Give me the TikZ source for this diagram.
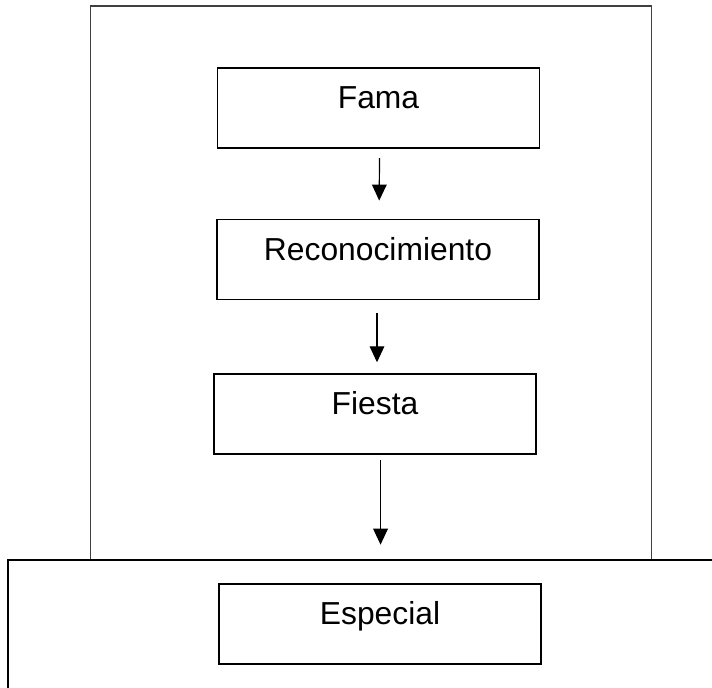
\documentclass[tikz,border=0pt]{standalone}
\usepackage{fontspec}
\setmainfont{Liberation Sans}
\usetikzlibrary{arrows.meta}
\begin{document}
\begin{tikzpicture}[x=0.75pt,y=-0.75pt,
  stepbox/.style={draw=black, line width=1.1pt, minimum width=241.5pt, minimum height=60pt,
    inner xsep=0pt, inner ysep=0pt, text height=30.5pt, text depth=29.5pt,
    font=\fontsize{23.85pt}{28pt}\selectfont},
  frame/.style={draw=black!75, line width=1.3pt},
  lowframe/.style={draw=black, line width=1.6pt},
  arr/.style={-{Triangle[width=11pt,length=12pt]}, line width=0.9pt}]
\useasboundingbox (0,0) rectangle (712,687);
\clip (0,0) rectangle (712,687);
\draw[frame] (90.4,5.8) rectangle (651.6,559.6);
\draw[lowframe] (760,559.6) -- (8.2,559.6) -- (8.2,720);
\node[stepbox] (fama) at (378.5,108) {Fama};
\node[stepbox] (recon) at (378,259.7) {Reconocimiento};
\node[stepbox] (fiesta) at (375,414) {Fiesta};
\node[stepbox] (especial) at (380,623.8) {Especial};
\draw[arr, shorten <=7pt, shorten >=13.8pt] ([xshift=0.8pt]fama.south) -- ([xshift=0.8pt]recon.north);
\draw[arr, shorten <=9.5pt, shorten >=8.25pt] ([xshift=-0.75pt]recon.south) -- ([xshift=-0.75pt]recon.south |- fiesta.north);
\draw[arr, shorten <=4.1pt, shorten >=28.8pt] ([xshift=0.4pt]especial.north |- fiesta.south) -- ([xshift=0.4pt]especial.north);
\end{tikzpicture}
\end{document}
